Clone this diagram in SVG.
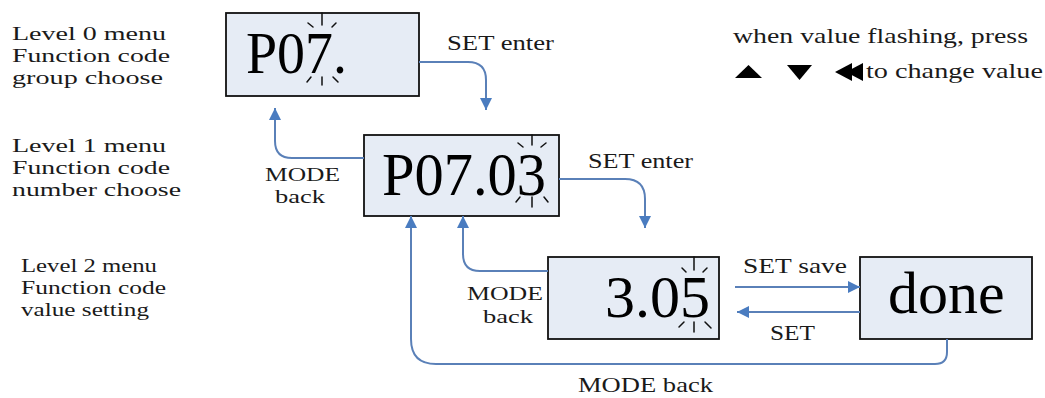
<svg xmlns="http://www.w3.org/2000/svg" width="1045" height="398" viewBox="0 0 1045 398">
<style>
.lbl{font-family:"Liberation Serif","Times New Roman",serif;font-size:22px;fill:#1a1a1a}
.stk{font-size:19.5px}
.big{font-family:"Liberation Serif","Times New Roman",serif;font-size:60px;fill:#000}
.box{fill:#e6ecf5;stroke:#111;stroke-width:1.8}
.spk{stroke:#111;stroke-width:1.5;stroke-linecap:round;fill:none}
.con{fill:none;stroke:#5a80b8;stroke-width:2}
.tri{fill:#000}
</style>
<defs>
<marker id="ah" viewBox="0 0 12 12" refX="12" refY="6" markerWidth="12" markerHeight="12" markerUnits="userSpaceOnUse" orient="auto">
<path d="M0,0 L12,6 L0,12 Z" fill="#4a7cc0"/>
</marker>
</defs>
<rect width="1045" height="398" fill="#fff"/>

<g id="level-labels">
<text class="lbl stk" x="12" y="40" textLength="154" lengthAdjust="spacingAndGlyphs">Level 0 menu</text>
<text class="lbl stk" x="12" y="62" textLength="158" lengthAdjust="spacingAndGlyphs">Function code</text>
<text class="lbl stk" x="12" y="84" textLength="151" lengthAdjust="spacingAndGlyphs">group choose</text>
<text class="lbl stk" x="12" y="152" textLength="154" lengthAdjust="spacingAndGlyphs">Level 1 menu</text>
<text class="lbl stk" x="12" y="174" textLength="158" lengthAdjust="spacingAndGlyphs">Function code</text>
<text class="lbl stk" x="12" y="196" textLength="169" lengthAdjust="spacingAndGlyphs">number choose</text>
<text class="lbl stk" x="21" y="272" textLength="136" lengthAdjust="spacingAndGlyphs">Level 2 menu</text>
<text class="lbl stk" x="21" y="294" textLength="145" lengthAdjust="spacingAndGlyphs">Function code</text>
<text class="lbl stk" x="21" y="316" textLength="128" lengthAdjust="spacingAndGlyphs">value setting</text>
</g>

<g id="legend">
<text class="lbl" x="733" y="43" textLength="295" lengthAdjust="spacingAndGlyphs">when value flashing, press</text>
<polygon class="tri" points="735,78 762,78 748.5,65"/>
<polygon class="tri" points="787,65 812,65 799.5,80"/>
<polygon class="tri" points="835,72 852,63 852,81"/>
<polygon class="tri" points="846,72 863,63 863,81"/>
<text class="lbl" x="866" y="78" textLength="177" lengthAdjust="spacingAndGlyphs">to change value</text>
</g>

<g id="node-p07">
<rect class="box" x="226" y="13" width="193" height="83"/>
<text class="big" x="246" y="73" textLength="101" lengthAdjust="spacingAndGlyphs">P07.</text>
<path class="spk" d="M322,13 V25 M308,23 L313,27 M336,23 L332,27 M322,77 V85 M307,82 L311,77 M333,77 L338,82"/>
</g>

<g id="node-p0703">
<rect class="box" x="364" y="135" width="195" height="81"/>
<text class="big" x="382" y="195" style="font-size:62px" textLength="164" lengthAdjust="spacingAndGlyphs">P07.03</text>
<path class="spk" d="M532,135 V145 M518,143 L523,147 M546,143 L541,147 M532,197 V207 M516,202 L520,197 M544,197 L548,202"/>
</g>

<g id="node-305">
<rect class="box" x="548" y="257" width="171" height="82"/>
<text class="big" x="605" y="317">3.05</text>
<path class="spk" d="M694,257 V270 M682,268 L686,272 M707,268 L703,272 M694,322 V332 M679,327 L684,322 M705,322 L711,328"/>
</g>

<g id="node-done">
<rect class="box" x="860" y="257" width="172" height="82"/>
<text class="big" x="888" y="313">done</text>
</g>

<g id="connectors">
<path class="con" d="M419,62 H468 Q486,62 486,80 V110" marker-end="url(#ah)"/>
<path class="con" d="M559,179 H625 Q645,179 645,199 V228" marker-end="url(#ah)"/>
<path class="con" d="M364,158 H292 Q275,158 275,141 V108" marker-end="url(#ah)"/>
<path class="con" d="M548,271 H480 Q463,271 463,254 V216" marker-end="url(#ah)"/>
<path class="con" d="M947,339 V352 Q947,364 935,364 H436 Q411,364 411,339 V216" marker-end="url(#ah)"/>
<path class="con" d="M735,287 H860" marker-end="url(#ah)"/>
<path class="con" d="M860,312 H737" marker-end="url(#ah)"/>
</g>

<g id="connector-labels">
<text class="lbl" x="447" y="50" textLength="107" lengthAdjust="spacingAndGlyphs">SET enter</text>
<text class="lbl" x="588" y="168" textLength="105" lengthAdjust="spacingAndGlyphs">SET enter</text>
<text class="lbl stk" x="265" y="181" textLength="75" lengthAdjust="spacingAndGlyphs">MODE</text>
<text class="lbl stk" x="275" y="203" textLength="50" lengthAdjust="spacingAndGlyphs">back</text>
<text class="lbl stk" x="467" y="300" textLength="76" lengthAdjust="spacingAndGlyphs">MODE</text>
<text class="lbl stk" x="483" y="323" textLength="50" lengthAdjust="spacingAndGlyphs">back</text>
<text class="lbl" x="743" y="273" textLength="104" lengthAdjust="spacingAndGlyphs">SET save</text>
<text class="lbl" x="770" y="340" textLength="45" lengthAdjust="spacingAndGlyphs">SET</text>
<text class="lbl" x="578" y="392" textLength="135" lengthAdjust="spacingAndGlyphs">MODE back</text>
</g>
</svg>
